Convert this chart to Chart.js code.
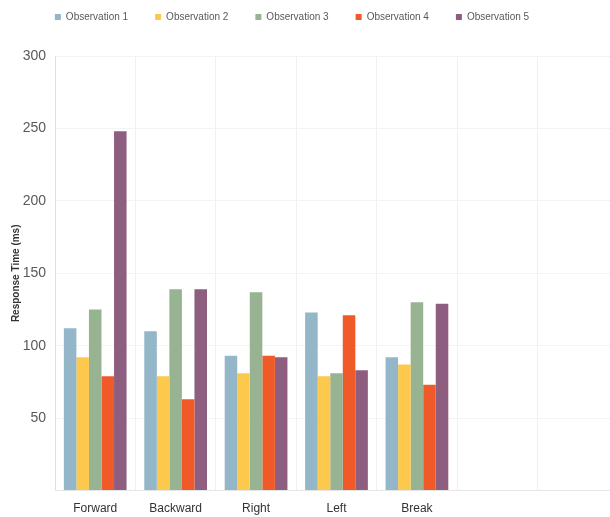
<!DOCTYPE html>
<html>
<head>
<meta charset="utf-8">
<script src="https://cdn.jsdelivr.net/npm/chart.js@4/dist/chart.umd.min.js"></script>
<style>
html,body{margin:0;padding:0;background:#fff;overflow:hidden;width:610px;height:517px;}
#wrap{position:absolute;left:0;top:0;width:676px;height:517px;}
</style>
</head>
<body>
<div id="wrap"><canvas id="c" width="676" height="517"></canvas></div>
<script>
const categories = ["Forward", "Backward", "Right", "Left", "Break", "", ""];
const seriesNames = ["Observation 1", "Observation 2", "Observation 3", "Observation 4", "Observation 5"];
const obs1 = [112, 110, 93, 123, 92];
const obs2 = [92, 79, 81, 79, 87];
const obs3 = [125, 139, 137, 81, 130];
const obs4 = [79, 63, 93, 121, 73];
const obs5 = [248, 139, 92, 83, 129];
const colors = ["#93B6C8", "#FDC94C", "#98B392", "#F05A28", "#8E5E80"];
const yTicks = [0, 50, 100, 150, 200, 250, 300];

const FONT = "'Liberation Sans', sans-serif";
const allSeries = [obs1, obs2, obs3, obs4, obs5];

// shift the legend row left so it matches the reference placement
const legendShift = {
  id: 'legendShift',
  afterLayout(chart) {
    if (chart.legend) { chart.legend.left -= 22; chart.legend.right -= 22; }
  }
};

new Chart(document.getElementById('c'), {
  type: 'bar',
  data: {
    labels: categories,
    datasets: allSeries.map((d, i) => ({
      label: seriesNames[i],
      data: d,
      backgroundColor: colors[i],
      borderWidth: 0,
      barPercentage: 1.0,
      categoryPercentage: 0.78
    }))
  },
  plugins: [legendShift],
  options: {
    responsive: false,
    animation: false,
    devicePixelRatio: 1,
    layout: { padding: { left: 10, right: 58, top: -15, bottom: -10 } },
    plugins: {
      legend: {
        position: 'top',
        labels: {
          boxWidth: 6,
          boxHeight: 6,
          padding: 27,
          color: '#595959',
          font: { family: FONT, size: 10 }
        }
      },
      title: {
        display: true,
        text: '',
        weight: 500,
        font: { size: 10 },
        padding: { top: 6, bottom: 6 }
      },
      tooltip: { enabled: false }
    },
    scales: {
      x: {
        grid: { display: true, offset: true, color: '#f0f0f0', drawTicks: false, tickLength: 0 },
        border: { display: true, color: '#e6e6e6' },
        ticks: { color: '#333333', font: { family: FONT, size: 12 }, padding: 11 }
      },
      y: {
        min: 0,
        max: 300,
        afterBuildTicks: (ax) => { ax.ticks = yTicks.map(v => ({ value: v })); },
        afterFit: (ax) => { ax.width = 45; },
        grid: { color: '#f3f3f3', drawTicks: false, tickLength: 0 },
        border: { display: true, color: '#e0e0e0' },
        ticks: {
          color: '#595959',
          padding: 9,
          font: { family: FONT, size: 14 },
          callback: (v) => v === 0 ? '' : v
        },
        title: {
          display: true,
          text: 'Response Time (ms)',
          color: '#333333',
          font: { family: FONT, size: 10, weight: 'bold' },
          padding: { top: 0, bottom: 2 }
        }
      }
    }
  }
});
</script>
</body>
</html>
